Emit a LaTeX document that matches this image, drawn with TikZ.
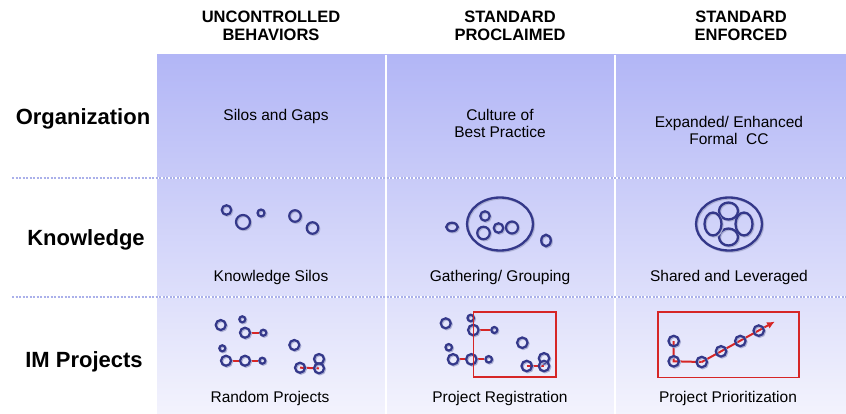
\documentclass[tikz,border=0pt]{standalone}
\usepackage{fontspec}
\setmainfont{Liberation Sans}
\usetikzlibrary{shapes.geometric,arrows.meta}
\definecolor{ringc}{RGB}{52,56,138}
\definecolor{shadowc}{RGB}{172,175,212}
\definecolor{linkc}{RGB}{214,38,38}
\definecolor{paneltop}{RGB}{178,182,246}
\definecolor{panelbot}{RGB}{243,243,253}
\definecolor{dotc}{RGB}{170,176,234}
\pgfdeclarelayer{panel}
\pgfdeclarelayer{bg}
\pgfsetlayers{panel,bg,main}

\begin{document}
\begin{tikzpicture}[x=1pt,y=-1pt,
  hdr/.style={font=\fontsize{16.5}{18}\selectfont\bfseries,align=center,inner sep=0pt,anchor=north},
  rowlbl/.style={font=\fontsize{22}{26}\selectfont\bfseries,anchor=base,inner sep=0pt},
  cell/.style={font=\fontsize{15.5}{17}\selectfont,align=center,inner sep=0pt},
  ring/.style={circle,draw=ringc,line width=2.2pt,inner sep=0pt,minimum size=#1,
    preaction={draw=shadowc,transform canvas={shift={(1pt,-1pt)}}}},
  oval/.style 2 args={ellipse,draw=ringc,line width=2.3pt,inner sep=0pt,minimum width=#1,minimum height=#2,
    preaction={draw=shadowc,transform canvas={shift={(1pt,-1pt)}}}},
  link/.style={draw=linkc,line width=2pt},
  frame/.style={draw=linkc,line width=1.6pt}]
\useasboundingbox (0,0) rectangle (846,414);

% panel and grid
\begin{pgfonlayer}{panel}
\shade [top color=paneltop, bottom color=panelbot] (157,55) rectangle (846,414);
\draw [white,line width=2pt] (386,55) -- (386,414);
\draw [white,line width=2pt] (615,55) -- (615,414);
\draw [white,line width=2pt] (12,178) -- (846,178);
\draw [white,line width=2pt] (12,297) -- (846,297);
\draw [dotc,line width=2pt,dash pattern=on 2pt off 1.5pt] (12,178) -- (846,178);
\draw [dotc,line width=2pt,dash pattern=on 2pt off 1.5pt] (12,297) -- (846,297);
\end{pgfonlayer}

% column heads
\node[hdr] (hUnc) at (271,11) {UNCONTROLLED\\BEHAVIORS};
\node[hdr] (hPro) at (510,11) {STANDARD\\PROCLAIMED};
\node[hdr] (hEnf) at (741,11) {STANDARD\\ENFORCED};

% row heads
\node[rowlbl] (rOrg) at (83,125) {Organization};
\node[rowlbl] (rKnow) at (86,246) {Knowledge};
\node[rowlbl] (rProj) at (84,367) {IM Projects};

% organization row
\node[cell,anchor=base] (orgA) at (276,121) {Silos and Gaps};
\node[cell,anchor=north] (orgB) at (500,109.5) {Culture of\\Best Practice};
\node[cell,anchor=north] (orgC) at (729,116) {Expanded/ Enhanced\\Formal\ \ CC};

% knowledge row
\node[cell,anchor=base] (knA) at (271,281) {Knowledge Silos};
\node[cell,anchor=base] (knB) at (500,281) {Gathering/ Grouping};
\node[cell,anchor=base] (knC) at (729,281) {Shared and Leveraged};

\node[ring=9.5] (sl1) at (226.5,210) {};
\node[ring=14] (sl2) at (243,222) {};
\node[ring=7] (sl3) at (261,213) {};
\node[ring=11.5] (sl4) at (295,216) {};
\node[ring=11.5] (sl5) at (312.5,228) {};

\node[oval={11.5}{8.5}] (gr0) at (452,227) {};
\node[oval={66}{53}] (grBig) at (500,224) {};
\node[ring=9.5] (gr1) at (485,216) {};
\node[ring=12.5] (gr2) at (483.5,233) {};
\node[ring=9.5] (gr3) at (498.5,228) {};
\node[ring=12] (gr4) at (512,227.5) {};
\node[oval={9.5}{11.5}] (gr5) at (546,240.5) {};

\node[oval={66}{53}] (shBig) at (729,224) {};
\node[oval={19}{17}] (shT) at (728.5,211) {};
\node[oval={19}{17}] (shB) at (728.5,237) {};
\node[oval={17}{23}] (shL) at (713,224) {};
\node[oval={17}{23}] (shR) at (744,224) {};

% projects row
\node[cell,anchor=base] (pjA) at (270,402) {Random Projects};
\node[cell,anchor=base] (pjB) at (500,402) {Project Registration};
\node[cell,anchor=base] (pjC) at (728,402) {Project Prioritization};

% random projects
\node[ring=10] (rpA) at (220.7,325) {};
\node[ring=6] (rpB) at (242.3,319.3) {};
\node[ring=10] (rpC) at (245,332.7) {};
\node[ring=6] (rpD) at (263.3,332.7) {};
\node[ring=6] (rpE) at (222.3,348.3) {};
\node[ring=10] (rpF) at (226,360.7) {};
\node[ring=10] (rpG) at (245,360.7) {};
\node[ring=6] (rpH) at (262.3,360.7) {};
\node[ring=10] (rpI) at (294.3,345) {};
\node[ring=10] (rpJ) at (300,367.7) {};
\node[ring=10] (rpK) at (319,359) {};
\node[ring=10] (rpL) at (319,368.3) {};
\begin{pgfonlayer}{bg}
\draw[link] (rpC) -- (rpD);
\draw[link] (rpF) -- (rpG);
\draw[link] (rpG) -- (rpH);
\draw[link] (rpJ.center) -- (rpL.center);
\end{pgfonlayer}

% project registration
\node[ring=10] (pgA) at (445.7,323.3) {};
\node[ring=6.5] (pgB) at (470.7,318) {};
\node[ring=10.5] (pgC) at (473.3,330) {};
\node[ring=6] (pgD) at (494.3,330) {};
\node[ring=6.5] (pgE) at (448.7,347.3) {};
\node[ring=10.5] (pgF) at (453,359.3) {};
\node[ring=10.5] (pgG) at (471.3,359.3) {};
\node[ring=6.5] (pgH) at (488.7,359.3) {};
\node[ring=10.5] (pgI) at (522.3,342.7) {};
\node[ring=10.5] (pgJ) at (526.7,366) {};
\node[ring=10.5] (pgK) at (544,358.3) {};
\node[ring=10.5] (pgL) at (544,366) {};
\begin{pgfonlayer}{bg}
\draw[link] (pgC) -- (pgD);
\draw[link] (pgF) -- (pgG);
\draw[link] (pgG) -- (pgH);
\draw[link] (pgJ.center) -- (pgL.center);
\end{pgfonlayer}
\draw[frame] (473.3,312) rectangle (555.7,376.7);

% project prioritization
\node[ring=10.5] (ppA) at (673.7,341) {};
\node[ring=10.5] (ppB) at (673.7,361.3) {};
\node[ring=10.5] (ppC) at (701.7,362) {};
\node[ring=10.5] (ppD) at (721,351.3) {};
\node[ring=10.5] (ppE) at (740.3,341) {};
\node[ring=10.5] (ppF) at (758.7,330.6) {};
\coordinate (ppTip) at (775,321.5);
\begin{pgfonlayer}{bg}
\draw[link] (ppA.center) -- (ppB.center) -- (ppC.center);
\draw[link,-{Latex[length=8pt,width=7pt]}] (ppC.center) -- (ppTip);
\end{pgfonlayer}
\draw[frame] (657.7,312) rectangle (798.7,377.3);
\end{tikzpicture}
\end{document}
